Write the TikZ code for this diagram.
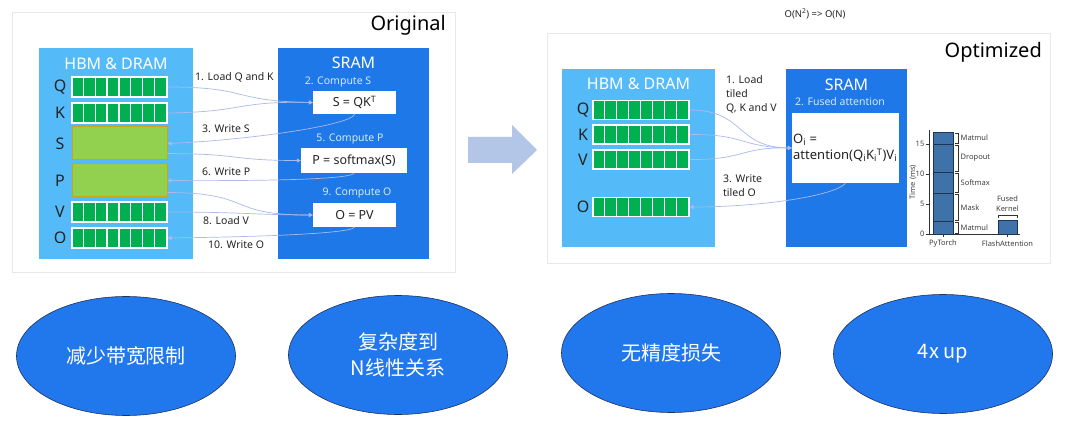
\documentclass[tikz,border=0pt]{standalone}
\usepackage{fontspec}
\setmainfont{Noto Sans}
\newfontfamily\cjk{Noto Sans CJK SC}
\usetikzlibrary{arrows.meta,shapes.geometric}

\definecolor{hbmblue}{RGB}{85,187,248}
\definecolor{sramblue}{RGB}{30,120,232}
\definecolor{cellgreen}{RGB}{0,176,80}
\definecolor{tilegreen}{RGB}{146,208,80}
\definecolor{tileedge}{RGB}{200,165,20}
\definecolor{flowline}{RGB}{170,186,235}
\definecolor{steplabel}{RGB}{212,234,255}
\definecolor{bigarrowfill}{RGB}{180,198,231}
\definecolor{ovalblue}{RGB}{33,119,236}
\definecolor{ovaledge}{RGB}{30,50,95}
\definecolor{baredge}{RGB}{28,52,82}
\definecolor{barfill}{RGB}{62,114,168}
\definecolor{inktext}{RGB}{35,35,35}

\tikzset{
  card/.style={draw=black!9, fill=white, line width=0.6pt},
  memory/.style={fill=hbmblue, inner sep=0},
  sram/.style={fill=sramblue, inner sep=0},
  boxtitle/.style={text=white, font=\fontsize{16}{19}\selectfont, inner sep=0},
  cellrow/.style={fill=cellgreen, draw=white, line width=1.2pt, inner sep=0},
  cellsep/.style={draw=white, line width=1.2pt},
  tile/.style={fill=tilegreen, draw=tileedge, line width=1pt, inner sep=0},
  rowlabel/.style={text=inktext, font=\fontsize{16}{19}\selectfont, inner sep=0},
  formula/.style={fill=white, inner sep=0, text=inktext, font=\fontsize{12.5}{15}\selectfont},
  steptext/.style={text=steplabel, font=\fontsize{10.5}{13}\selectfont, inner sep=0},
  flowtext/.style={text=inktext, font=\fontsize{10.5}{13}\selectfont, inner sep=0, anchor=west},
  flow/.style={draw=flowline, line width=0.7pt, -{Triangle[length=4pt,width=4pt]}},
  oval/.style={ellipse, fill=ovalblue, draw=ovaledge, line width=0.6pt,
    minimum width=219, minimum height=119, inner sep=0, text=white,
    font=\cjk\fontsize{20}{26}\selectfont, align=center},
  bar/.style={fill=barfill, draw=baredge, line width=0.8pt},
  chartlabel/.style={text=black!75, font=\bfseries\fontsize{7.5}{9}\selectfont, inner sep=0}
}

\begin{document}
\begin{tikzpicture}[x=1pt, y=-1pt]
    \useasboundingbox (0,0) rectangle (1080,433);
    \fill[white] (0,0) rectangle (1080,433);

    % Original card
    \draw[card] (12,12) rectangle (455,272);
    \node[text=black, font=\fontsize{20}{24}\selectfont, anchor=east, inner sep=0] (origtitle) at (446,25) {Original};

    % HBM & DRAM (original)
    \node[memory, minimum width=154, minimum height=211] (hbma) at (116,153.5) {};
    \node[boxtitle] (hbmatitle) at (116,64) {HBM \& DRAM};
    \foreach \n/\t/\y in {qa/Q/87, ka/K/113, va/V/212, oa/O/238} {
        \node[cellrow, minimum width=95, minimum height=20] (\n) at (119.5,\y) {};
        \node[rowlabel] (\n lab) at (60,\y) {\t};
        \foreach \i in {1,...,7}
            \draw[cellsep] ([xshift=\i*11.875pt]\n.north west) -- ([xshift=\i*11.875pt]\n.south west);
    }
    \node[tile, minimum width=95, minimum height=33] (sa) at (119.5,143.5) {};
    \node[rowlabel] (salab) at (60,143.5) {S};
    \node[tile, minimum width=95, minimum height=33] (pa) at (119.5,180.5) {};
    \node[rowlabel] (palab) at (60,180.5) {P};

    % Step labels between the boxes
    \node[flowtext] (loadqk) at (195,77) {1. Load Q and K};
    \node[flowtext] (writes) at (202,129) {3. Write S};
    \node[flowtext] (writep) at (202,172) {6. Write P};
    \node[flowtext] (loadv) at (203,221) {8. Load V};
    \node[flowtext] (writeo) at (208,245) {10. Write O};

    % SRAM (original)
    \node[sram, minimum width=151, minimum height=211] (srama) at (353.5,153.5) {};
    \node[boxtitle] (sramatitle) at (353.5,63) {SRAM};
    \node[steptext] (comps) at (338,82) {2. Compute S};
    \node[formula, minimum width=83, minimum height=23] (sbox) at (354.5,102.5) {S = QK\textsuperscript{T}};
    \node[steptext] (compp) at (350,139) {5. Compute P};
    \node[formula, minimum width=106, minimum height=25] (pbox) at (354,160.5) {P = softmax(S)};
    \node[steptext] (compo) at (357,193) {9. Compute O};
    \node[formula, minimum width=83, minimum height=24] (obox) at (354.5,215) {O = PV};

    % Data movement (original)
    \draw[flow] (qa.east) .. controls (250,87) and (230,101) .. (sbox.west);
    \draw[flow] (ka.east) .. controls (245,112) and (235,101) .. (sbox.west);
    \draw[flow] (sbox.south) .. controls (352,125) and (250,140) .. (sa.east);
    \draw[flow] ([yshift=-10pt]sa.east) .. controls (245,154) and (230,160.5) .. (pbox.west);
    \draw[flow] (pbox.south) .. controls (350,180) and (250,181) .. (pa.east);
    \draw[flow] ([yshift=-12pt]pa.east) .. controls (255,193) and (225,215) .. (obox.west);
    \draw[flow] (va.east) .. controls (240,212) and (260,215) .. (obox.west);
    \draw[flow] (obox.south) .. controls (350,234) and (250,237) .. (oa.east);

    % Big arrow
    \fill[bigarrowfill] (468,137) -- (512,137) -- (512,125) -- (537,150) -- (512,174) -- (512,163) -- (468,163) -- cycle;

    % Complexity note
    \node[text=inktext, font=\fontsize{9.5}{12}\selectfont, inner sep=0] (complexity) at (815,14) {O(N\textsuperscript{2}) => O(N)};

    % Optimized card
    \draw[card] (547,33) rectangle (1050,263);
    \node[text=black, font=\fontsize{20}{24}\selectfont, anchor=east, inner sep=0] (opttitle) at (1042,52) {Optimized};

    % HBM & DRAM (optimized)
    \node[memory, minimum width=153, minimum height=178] (hbmb) at (638.5,158) {};
    \node[boxtitle] (hbmbtitle) at (638.5,84) {HBM \& DRAM};
    \foreach \n/\t/\y in {qb/Q/110, kb/K/134.5, vb/V/159.5, ob/O/207} {
        \node[cellrow, minimum width=96, minimum height=19] (\n) at (641,\y) {};
        \node[rowlabel] (\n lab) at (583,\y) {\t};
        \foreach \i in {1,...,7}
            \draw[cellsep] ([xshift=\i*12pt]\n.north west) -- ([xshift=\i*12pt]\n.south west);
    }

    % Step labels (optimized)
    \node[flowtext, align=left, font=\fontsize{10.5}{14}\selectfont] (loadtiled) at (726,94) {1. Load\\tiled\\Q, K and V};
    \node[flowtext, align=left, font=\fontsize{10.5}{14}\selectfont] (writetiled) at (723,186) {3. Write\\tiled O};

    % SRAM (optimized)
    \node[sram, minimum width=121, minimum height=178] (sramb) at (846.5,158) {};
    \node[boxtitle] (srambtitle) at (846.5,85) {SRAM};
    \node[steptext] (fused) at (840,102) {2. Fused attention};
    \node[fill=white, minimum width=107, minimum height=70, inner sep=0] (attbox) at (845.5,148) {};
    \node[text=inktext, font=\fontsize{13}{16}\selectfont, align=left, anchor=west, inner sep=0] (atttext) at (793,148)
        {O\textsubscript{i} =\\attention(Q\textsubscript{i}K\textsubscript{i}\textsuperscript{T})V\textsubscript{i}};

    % Data movement (optimized)
    \draw[flow] (qb.east) .. controls (745,110) and (735,147) .. (attbox.west);
    \draw[flow] (kb.east) .. controls (745,134) and (740,147) .. (attbox.west);
    \draw[flow] (vb.east) .. controls (745,160) and (740,147) .. (attbox.west);
    \draw[flow] (attbox.south) .. controls (835,196) and (760,207) .. (ob.east);

    % Runtime chart
    \draw[black!80, line width=0.7pt] (929,130) -- (929,234) -- (1020,234);
    \foreach \v in {0,5,10,15} {
        \draw[black!80, line width=0.7pt] (925.5,{234-6*\v}) -- (929,{234-6*\v});
        \node[chartlabel, anchor=east] (tick\v) at (924.5,{234-6*\v}) {\v};
    }
    \foreach \a/\b/\lab [count=\k] in {0/2.1/Matmul, 2.1/6.7/Mask, 6.7/10.3/Softmax, 10.3/15/Dropout, 15/17/Matmul} {
        \draw[bar] (933,{234-6*\a}) rectangle (953,{234-6*\b});
        \draw[black!80, line width=0.7pt] (955,{234-6*\a-1}) -- (958,{234-6*\a-1}) -- (958,{234-6*\b+1}) -- (955,{234-6*\b+1});
        \node[chartlabel, anchor=west] (seg\k) at (960.5,{234-3*(\a+\b)}) {\lab};
    }
    \draw[bar] (998,234) rectangle (1017,220.8);
    \draw[black!80, line width=0.7pt] (998,218) -- (998,215) -- (1017,215) -- (1017,218);
    \node[chartlabel, align=center, font=\bfseries\fontsize{7.5}{10}\selectfont] (fusedkernel) at (1007.5,204) {Fused\\Kernel};
    \draw[black!80, line width=0.7pt] (943,234) -- (943,237);
    \draw[black!80, line width=0.7pt] (1007.5,234) -- (1007.5,237);
    \node[chartlabel] (pytorch) at (943,243.5) {PyTorch};
    \node[chartlabel] (flashatt) at (1007.5,243.5) {FlashAttention};
    \node[chartlabel, rotate=90] (timeaxis) at (913,182) {Time (ms)};

    % Summary ovals
    \node[oval] (bandwidth) at (126,356) {减少带宽限制};
    \node[oval] (linear) at (398,355) {复杂度到\\N线性关系};
    \node[oval] (lossless) at (671,353) {无精度损失};
    \node[oval] (speedup) at (943,354) {4x up};
\end{tikzpicture}
\end{document}
